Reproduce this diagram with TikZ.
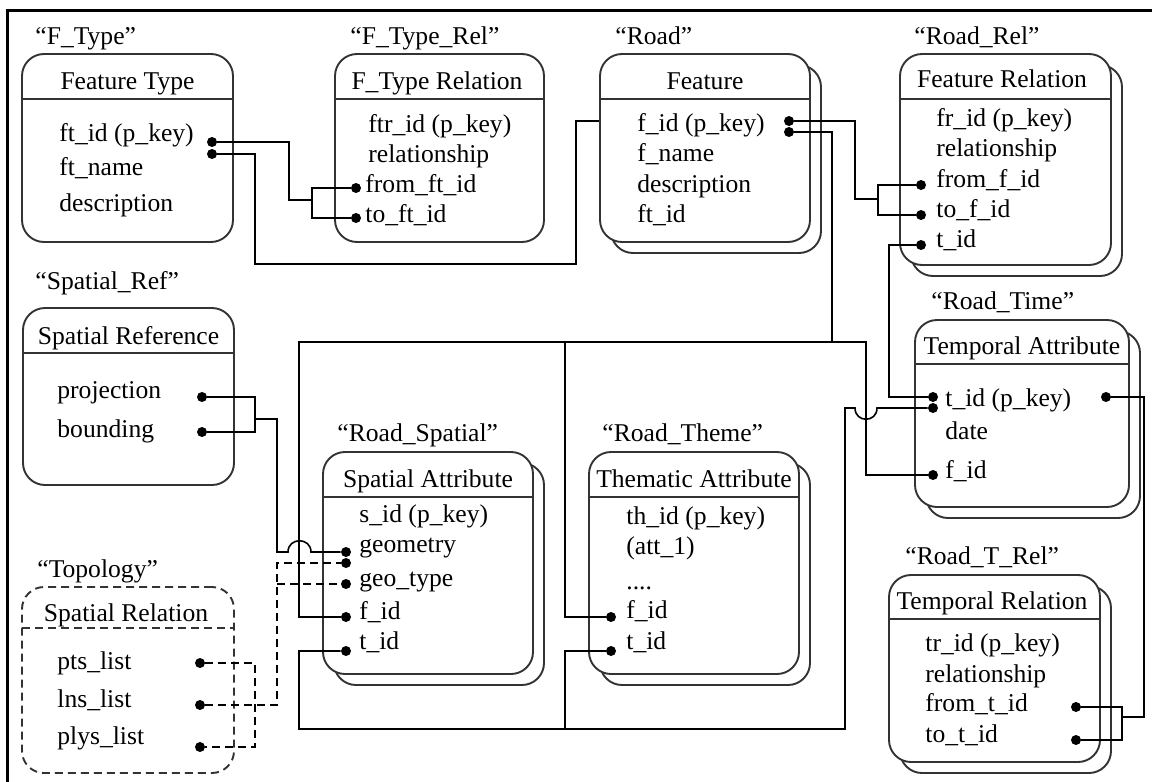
\documentclass[tikz,border=0pt]{standalone}
\usepackage{fontspec}
\setmainfont{Liberation Serif}
\begin{document}
\begin{tikzpicture}[x=0.5pt,y=-0.5pt,
  every node/.style={font=\fontsize{12.8}{15}\selectfont, inner sep=0pt},
  ebox/.style={rectangle, draw=black!80, line width=0.95pt, rounded corners=11pt, fill=white},
  dbox/.style={ebox, dash pattern=on 4pt off 2.5pt},
  hline/.style={draw=black!80, line width=0.95pt},
  dhline/.style={hline, dash pattern=on 4pt off 2.5pt},
  conn/.style={line width=0.8pt, draw=black},
  dconn/.style={conn, dash pattern=on 4pt off 2.5pt},
  dot/.style={circle, fill=black, minimum size=5pt},
  row/.style={anchor=mid west},
  ttl/.style={anchor=mid},
  lbl/.style={anchor=mid west}]
\useasboundingbox (0,0) rectangle (1152,782);
% frame
\draw[line width=1.5pt] (7,782) -- (7,10) -- (1152,10);

% ---------- F_Type ----------
\node[ebox, minimum width=105.5pt, minimum height=94pt] (ft) at (127.5,148) {};
\draw[hline] (22,99) -- (233,99);
\node[ttl] (ft-t) at (127.5,85) {Feature Type};
\node[lbl] (ft-l) at (35,40) {“F\_Type”};
\node[row] (ft-r1) at (59,137) {ft\_id (p\_key)};
\node[row] (ft-r2) at (59,171) {ft\_name};
\node[row] (ft-r3) at (59,207) {description};

% ---------- F_Type_Rel ----------
\node[ebox, minimum width=104.5pt, minimum height=94pt] (ftr) at (439.5,148) {};
\draw[hline] (335,99) -- (544,99);
\node[ttl] (ftr-t) at (437,85) {F\_Type Relation};
\node[lbl] (ftr-l) at (350,40) {“F\_Type\_Rel”};
\node[row] (ftr-r1) at (368,128) {ftr\_id (p\_key)};
\node[row] (ftr-r2) at (368,158) {relationship};
\node[row] (ftr-r3) at (365,188) {from\_ft\_id};
\node[row] (ftr-r4) at (365,218) {to\_ft\_id};

% ---------- Road (Feature) ----------
\node[ebox, minimum width=105pt, minimum height=94pt] (feat-sh) at (716,159) {};
\node[ebox, minimum width=105pt, minimum height=94pt] (feat) at (705,148) {};
\draw[hline] (600,99) -- (810,99);
\node[ttl] (feat-t) at (705,85) {Feature};
\node[lbl] (feat-l) at (615,40) {“Road”};
\node[row] (feat-r1) at (637,127) {f\_id (p\_key)};
\node[row] (feat-r2) at (637,157) {f\_name};
\node[row] (feat-r3) at (637,188) {description};
\node[row] (feat-r4) at (637,218) {ft\_id};

% ---------- Road_Rel ----------
\node[ebox, minimum width=105.5pt, minimum height=105.5pt] (rr-sh) at (1016.5,170.5) {};
\node[ebox, minimum width=105.5pt, minimum height=105.5pt] (rr) at (1005.5,159.5) {};
\draw[hline] (900,99) -- (1111,99);
\node[ttl] (rr-t) at (1002,83) {Feature Relation};
\node[lbl] (rr-l) at (914,40) {“Road\_Rel”};
\node[row] (rr-r1) at (936,122) {fr\_id (p\_key)};
\node[row] (rr-r2) at (936,152) {relationship};
\node[row] (rr-r3) at (936,183) {from\_f\_id};
\node[row] (rr-r4) at (936,213) {to\_f\_id};
\node[row] (rr-r5) at (936,243) {t\_id};

% ---------- Spatial_Ref ----------
\node[ebox, minimum width=105.5pt, minimum height=88.5pt] (sr) at (128.5,396.5) {};
\draw[hline] (23,353) -- (234,353);
\node[ttl] (sr-t) at (128.5,340) {Spatial Reference};
\node[lbl] (sr-l) at (35,285) {“Spatial\_Ref”};
\node[row] (sr-r1) at (57,394) {projection};
\node[row] (sr-r2) at (57,433) {bounding};

% ---------- Topology ----------
\node[dbox, minimum width=106pt, minimum height=93pt] (tp) at (128,680) {};
\draw[dhline] (22,628) -- (234,628);
\node[ttl] (tp-t) at (126,617) {Spatial Relation};
\node[lbl] (tp-l) at (37,573) {“Topology”};
\node[row] (tp-r1) at (57,665) {pts\_list};
\node[row] (tp-r2) at (57,703) {lns\_list};
\node[row] (tp-r3) at (57,740) {plys\_list};

% ---------- Road_Spatial ----------
\node[ebox, minimum width=105pt, minimum height=111pt] (sa-sh) at (439,574) {};
\node[ebox, minimum width=105pt, minimum height=111pt] (sa) at (428,563) {};
\draw[hline] (323,497) -- (533,497);
\node[ttl] (sa-t) at (428,483) {Spatial Attribute};
\node[lbl] (sa-l) at (337,437) {“Road\_Spatial”};
\node[row] (sa-r1) at (359,518) {s\_id (p\_key)};
\node[row] (sa-r2) at (359,548) {geometry};
\node[row] (sa-r3) at (359,582) {geo\_type};
\node[row] (sa-r4) at (359,615) {f\_id};
\node[row] (sa-r5) at (359,645) {t\_id};

% ---------- Road_Theme ----------
\node[ebox, minimum width=105pt, minimum height=111pt] (ta-sh) at (705,574) {};
\node[ebox, minimum width=105pt, minimum height=111pt] (ta) at (694,563) {};
\draw[hline] (589,497) -- (799,497);
\node[ttl] (ta-t) at (694,483) {Thematic Attribute};
\node[lbl] (ta-l) at (602,437) {“Road\_Theme”};
\node[row] (ta-r1) at (626,520) {th\_id (p\_key)};
\node[row] (ta-r2) at (626,550) {(att\_1)};
\node[row] (ta-r3) at (626,585) {....};
\node[row] (ta-r4) at (626,614) {f\_id};
\node[row] (ta-r5) at (626,645) {t\_id};

% ---------- Road_Time ----------
\node[ebox, minimum width=107pt, minimum height=93.5pt] (tma-sh) at (1033,424.5) {};
\node[ebox, minimum width=107pt, minimum height=93.5pt] (tma) at (1022,413.5) {};
\draw[hline] (915,364) -- (1129,364);
\node[ttl] (tma-t) at (1022,350) {Temporal Attribute};
\node[lbl] (tma-l) at (931,305) {“Road\_Time”};
\node[row] (tma-r1) at (945,402) {t\_id (p\_key)};
\node[row] (tma-r2) at (945,435) {date};
\node[row] (tma-r3) at (945,474) {f\_id};

% ---------- Road_T_Rel ----------
\node[ebox, minimum width=105.5pt, minimum height=93.5pt] (tr-sh) at (1005.5,679.5) {};
\node[ebox, minimum width=105.5pt, minimum height=93.5pt] (tr) at (994.5,668.5) {};
\draw[hline] (889,619) -- (1100,619);
\node[ttl] (tr-t) at (992,605) {Temporal Relation};
\node[lbl] (tr-l) at (905,560) {“Road\_T\_Rel”};
\node[row] (tr-r1) at (925,647) {tr\_id (p\_key)};
\node[row] (tr-r2) at (925,678) {relationship};
\node[row] (tr-r3) at (925,707) {from\_t\_id};
\node[row] (tr-r4) at (925,738) {to\_t\_id};

% ---------- dots ----------
\node[dot] (ft-d1) at (212,142) {};
\node[dot] (ft-d2) at (212,154) {};
\node[dot] (ftr-d1) at (356,188) {};
\node[dot] (ftr-d2) at (356,218) {};
\node[dot] (feat-d1) at (789,121) {};
\node[dot] (feat-d2) at (789,132) {};
\node[dot] (rr-d1) at (921,185) {};
\node[dot] (rr-d2) at (921,215) {};
\node[dot] (rr-d3) at (921,245) {};
\node[dot] (sr-d1) at (202,397) {};
\node[dot] (sr-d2) at (202,432) {};
\node[dot] (tp-d1) at (200,663) {};
\node[dot] (tp-d2) at (200,705) {};
\node[dot] (tp-d3) at (200,747) {};
\node[dot] (sa-d1) at (346,552) {};
\node[dot] (sa-d2) at (346,563) {};
\node[dot] (sa-d3) at (346,584) {};
\node[dot] (sa-d4) at (346,617) {};
\node[dot] (sa-d5) at (346,651) {};
\node[dot] (ta-d1) at (611,617) {};
\node[dot] (ta-d2) at (611,651) {};
\node[dot] (tma-d1) at (933,397) {};
\node[dot] (tma-d2) at (933,408) {};
\node[dot] (tma-d3) at (933,475) {};
\node[dot] (tma-d4) at (1106,397) {};
\node[dot] (tr-d1) at (1076,707) {};
\node[dot] (tr-d2) at (1076,740) {};

% junction coordinates
\coordinate (jA) at (312,200);
\coordinate (jC) at (878,199);
\coordinate (jD) at (565,342);
\coordinate (jF) at (565,729);
\coordinate (jG) at (1122,717);
\coordinate (jH) at (255,419);
\coordinate (jI) at (277,584);

% ---------- connectors ----------
% F_Type -> F_Type_Rel
\draw[conn] (ft-d1) -- (289,142) |- (jA);
\draw[conn] (ftr-d1) -| (312,218) -- (ftr-d2);
% F_Type -> Feature
\draw[conn] (ft-d2) -| (255,264) -| (576,121) -- (feat.west |- feat-d1);
% Feature -> Feature Relation
\draw[conn] (feat-d1) -| (855,199) -- (jC);
\draw[conn] (rr-d1) -| (878,215) -- (rr-d2);
% Feature -> spatial / thematic / temporal
\draw[conn] (feat-d2) -| (832,342);
\draw[conn] (sa-d4) -| (299,342) -- (866,342) |- (tma-d3);
\draw[conn] (jD) |- (ta-d1);
% Feature Relation t_id -> Temporal
\draw[conn] (rr-d3) -| (889,397) -- (tma-d1);
% Temporal -> spatial / thematic (with hop)
\draw[conn] (tma-d2) -- (877,408) .. controls (877,423) and (855,423) .. (855,408) -| (845,729) -| (299,651) -- (sa-d5);
\draw[conn] (jF) |- (ta-d2);
% Temporal -> Temporal Relation
\draw[conn] (tma-d4) -| (1144,717) -- (jG);
\draw[conn] (tr-d1) -| (1122,740) -- (tr-d2);
% Spatial Reference -> geometry (with hop)
\draw[conn] (sr-d1) -| (255,432) -- (sr-d2);
\draw[conn] (jH) -| (277,552) -- (288,552) .. controls (288,537) and (311,537) .. (311,552) -- (sa-d1);
% Topology (dashed)
\draw[dconn] (tp-d1) -| (255,747) -- (tp-d3);
\draw[dconn] (tp-d2) -| (277,563) -- (sa-d2);
\draw[dconn] (jI) -- (sa-d3);
\end{tikzpicture}
\end{document}
